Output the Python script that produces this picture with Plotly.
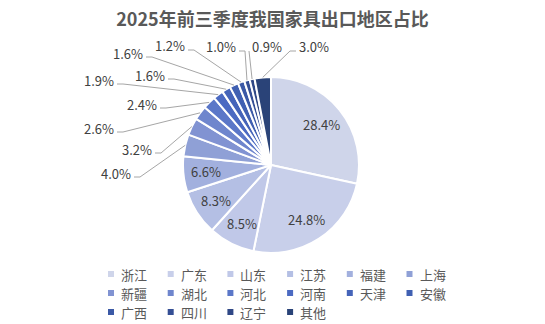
import math
import plotly.graph_objects as go

# ---- data ----
regions = ["浙江", "广东", "山东", "江苏", "福建", "上海", "新疆", "湖北",
           "河北", "河南", "天津", "安徽", "广西", "四川", "辽宁", "其他"]
shares = [28.4, 24.8, 8.5, 8.3, 6.6, 4.0, 3.2, 2.6,
          2.4, 1.9, 1.6, 1.6, 1.2, 1.0, 0.9, 3.0]
title_text = "2025年前三季度我国家具出口地区占比"

# ---- styles ----
colors = ["#cfd5ea", "#c8cfea", "#c0c8e8", "#b4bfe4", "#a2b0de", "#8fa0d6",
          "#8193d2", "#6f86cd", "#5b77c8", "#4b6ac2", "#4564b9", "#4060b2",
          "#3b59a6", "#354f95", "#304886", "#2a4378"]
W, H = 545, 324
CX, CY, R = 271, 165, 88          # pie centre / radius in pixels
FONT = "Noto Sans CJK SC"
TXT = "#404040"

# outside-label placement (pixel anchor, anchor side) for the small slices
outside_layout = {
    5: (132, 173, "right"),
    6: (153, 149, "right"),
    7: (115, 128, "right"),
    8: (158, 104, "right"),
    9: (115, 80, "right"),
    10: (166, 75, "right"),
    11: (144, 53, "right"),
    12: (186, 46, "right"),
    13: (237, 47, "right"),
    14: (251, 47, "left"),
    15: (298, 47, "left"),
}


def px(x):
    return x / W


def py(y):
    return 1 - y / H


fig = go.Figure()
fig.add_trace(go.Pie(
    labels=regions, values=shares, sort=False, direction="clockwise",
    rotation=0, textinfo="none", hoverinfo="label+percent",
    marker=dict(colors=colors, line=dict(color="white", width=2)),
    domain=dict(x=[px(CX - R), px(CX + R)], y=[py(CY + R), py(CY - R)]),
    showlegend=False,
))

annotations = []
shapes = []
total = sum(shares)
cum = 0.0
for i, v in enumerate(shares):
    mid = (cum + v / 2) / total * 2 * math.pi
    cum += v
    sx, sy = math.sin(mid), -math.cos(mid)
    label = f"{v:.1f}%"
    if i in outside_layout:
        lx, ly, side = outside_layout[i]
        ex, ey = CX + R * sx, CY + R * sy
        if side == "right":
            x0 = lx + 2
            x1 = min(x0 + 6, ex)
        else:
            x0 = lx - 2
            x1 = max(x0 - 6, ex) if ex < x0 else x0
        yl = ly + 4
        path = f"M {px(x0)},{py(yl)} L {px(x1)},{py(yl)} L {px(ex)},{py(ey)}"
        shapes.append(dict(type="path", xref="paper", yref="paper", path=path,
                           line=dict(color="#a6a6a6", width=1)))
        annotations.append(dict(x=px(lx), y=py(ly), xref="paper", yref="paper",
                                text=label, showarrow=False, xanchor=side,
                                yanchor="middle", borderpad=0,
                                font=dict(family=FONT, size=13, color=TXT)))
    else:
        rr = 0.74 * R
        annotations.append(dict(x=px(CX + rr * sx), y=py(CY + rr * sy),
                                xref="paper", yref="paper", text=label,
                                showarrow=False, xanchor="center",
                                yanchor="middle", borderpad=0,
                                font=dict(family=FONT, size=13, color=TXT)))

# legend grid (6 columns)
LEG_X0, LEG_DX, LEG_YC, SQ, LEG_FS, LEG_DY = 108, 59.7, 293, 6, 13, 19
NCOL = 6
for i, name in enumerate(regions):
    r, c = divmod(i, NCOL)
    x = LEG_X0 + c * LEG_DX
    y = LEG_YC + (r - 1) * LEG_DY
    shapes.append(dict(type="rect", xref="paper", yref="paper",
                       x0=px(x), x1=px(x + SQ),
                       y0=py(y + SQ / 2), y1=py(y - SQ / 2),
                       fillcolor=colors[i], line=dict(width=0)))
    annotations.append(dict(x=px(x + 12), y=py(y), xref="paper", yref="paper",
                            text=name, showarrow=False, xanchor="left",
                            yanchor="middle", borderpad=0,
                            font=dict(family=FONT, size=LEG_FS, color="#595959")))

fig.update_layout(
    width=W, height=H,
    margin=dict(l=0, r=0, t=0, b=0),
    paper_bgcolor="white", plot_bgcolor="white",
    title=dict(text=title_text, x=0.5, xanchor="center", y=py(20),
               yanchor="middle",
               font=dict(family=FONT, size=18, color="#595959", weight="bold")),
    annotations=annotations, shapes=shapes,
)

fig.write_html("out.html")
